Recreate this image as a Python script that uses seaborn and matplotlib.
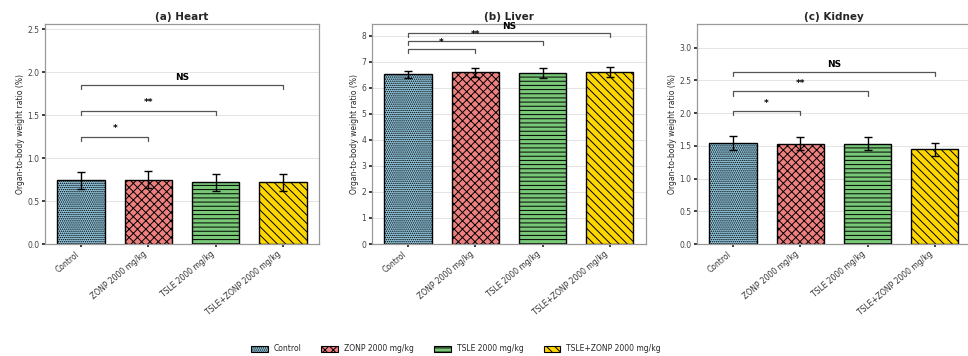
import matplotlib
matplotlib.use("Agg")
import matplotlib.pyplot as plt
import seaborn as sns
import pandas as pd
from matplotlib.patches import Patch

# Treatment groups and styling
groups = ["Control", "ZONP 2000 mg/kg", "TSLE 2000 mg/kg", "TSLE+ZONP 2000 mg/kg"]
colors = ["#93c9e0", "#ee8080", "#78c878", "#ffd700"]
hatches = ["........", "xxxx", "----", "\\\\\\\\"]

# Organ-to-body weight ratio (%), mean and SD per group
heart_mean = [0.74, 0.75, 0.72, 0.72]
heart_sd = [0.10, 0.10, 0.10, 0.10]
liver_mean = [6.52, 6.60, 6.57, 6.62]
liver_sd = [0.15, 0.18, 0.20, 0.19]
kidney_mean = [1.54, 1.53, 1.53, 1.45]
kidney_sd = [0.11, 0.10, 0.10, 0.10]

# Pairwise comparisons against Control: (target group index, label, bracket height)
heart_sig = [(1, "*", 1.25), (2, "**", 1.55), (3, "NS", 1.85)]
liver_sig = [(1, "*", 7.51), (2, "**", 7.82), (3, "NS", 8.13)]
kidney_sig = [(1, "*", 2.03), (2, "**", 2.33), (3, "NS", 2.63)]

titles = ["(a) Heart", "(b) Liver", "(c) Kidney"]
y_tops = [2.56, 8.46, 3.36]
text_pad = [0.04, 0.07, 0.05]

sns.set_theme(style="whitegrid")
plt.rcParams["font.family"] = ["DejaVu Sans"]
plt.rcParams["hatch.linewidth"] = 0.7

fig = plt.figure(figsize=(9.68, 3.56), dpi=100)
lefts = [0.0465, 0.3843, 0.720]
panels = [
    (heart_mean, heart_sd, heart_sig),
    (liver_mean, liver_sd, liver_sig),
    (kidney_mean, kidney_sd, kidney_sig),
]

for i, (means, sds, sig) in enumerate(panels):
    ax = fig.add_axes([lefts[i], 0.3146, 0.283, 0.618])
    df = pd.DataFrame({"group": groups, "value": means})
    sns.barplot(data=df, x="group", y="value", hue="group", palette=colors,
                order=groups, hue_order=groups, dodge=False, legend=False,
                saturation=1, width=0.7, edgecolor="black", linewidth=1.0,
                ax=ax)
    bars = sorted(ax.patches, key=lambda p: p.get_x())
    centers = []
    for b, h in zip(bars, hatches):
        b.set_hatch(h)
        b.set_edgecolor("black")
        centers.append(b.get_x() + b.get_width() / 2)
    ax.errorbar(centers, means, yerr=sds, fmt="none", ecolor="black",
                elinewidth=1.0, capsize=3, capthick=1.0, zorder=5)

    top = y_tops[i]
    ax.set_ylim(0, top)
    tick_h = 0.02 * top
    for j, label, y in sig:
        x0, x1 = centers[0], centers[j]
        ax.plot([x0, x0, x1, x1], [y - tick_h, y, y, y - tick_h],
                color="#555555", lw=0.9)
        ax.text((x0 + x1) / 2, y + text_pad[i], label, ha="center",
                va="bottom", fontsize=6.5, fontweight="bold", color="black")

    ax.set_title(titles[i], fontsize=7.5, fontweight="bold", pad=3)
    ax.set_xlabel("")
    ax.set_ylabel("Organ-to-body weight ratio (%)", fontsize=5.5, labelpad=2)
    ax.tick_params(axis="y", labelsize=5.5, labelcolor="#444444", length=2,
                   pad=2, left=True)
    ax.tick_params(axis="x", labelsize=5.5, labelcolor="#333333", length=2,
                   pad=2, bottom=True)
    plt.setp(ax.get_xticklabels(), rotation=40, ha="right")
    ax.grid(axis="x", visible=False)
    ax.grid(axis="y", color="#e4e4e4", lw=0.7)
    ax.set_axisbelow(True)
    for s in ax.spines.values():
        s.set_color("#999999")
        s.set_linewidth(0.9)

handles = [Patch(facecolor=c, edgecolor="black", hatch=h, label=g, lw=0.8)
           for c, h, g in zip(colors, hatches, groups)]
fig.legend(handles=handles, loc="center", bbox_to_anchor=(0.471, 0.02),
           ncol=4, frameon=False, fontsize=5.5, handlelength=2.2,
           handleheight=0.9, columnspacing=2.6, handletextpad=0.8)

fig.savefig("out.png", dpi=100)
